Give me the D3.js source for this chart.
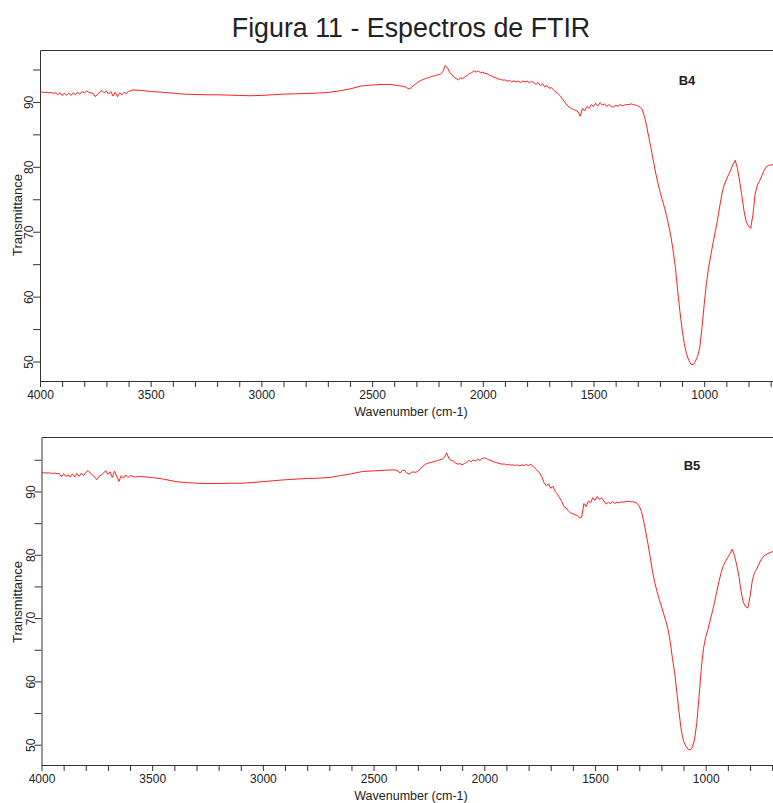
<!DOCTYPE html>
<html>
<head>
<meta charset="utf-8">
<script src="https://cdn.jsdelivr.net/npm/d3@7"></script>
<style>
body { margin: 0; background: #fff; }
svg text { font-family: "Liberation Sans", Arial, sans-serif; fill: #222; }
</style>
</head>
<body>
<div id="chart"></div>
<script>
// tick labels (500 lies past the right edge of the picture)
var xTickLabels = [4000, 3500, 3000, 2500, 2000, 1500, 1000];
var yTickLabels = [50, 60, 70, 80, 90];

// B4 spectrum: [wavenumber, transmittance]
var b4 = [
[4000,91.5],[3990,91.5],[3980,91.45],[3970,91.5],[3960,91.4],[3950,91.45],[3940,91.35],[3930,91.4],[3920,91.1],[3910,91.4],
[3900,91.0],[3890,91.3],[3880,91.05],[3870,91.35],[3860,91.0],[3850,91.4],[3840,91.1],[3830,91.5],[3820,91.2],[3810,91.6],
[3800,91.4],[3790,91.7],[3780,91.5],[3770,91.4],[3760,91.3],[3750,90.8],[3740,91.2],[3730,91.5],[3720,91.75],[3710,91.4],
[3700,91.7],[3690,91.2],[3680,91.6],[3670,90.9],[3660,91.5],[3650,90.8],[3640,91.4],[3630,91.1],[3620,91.5],[3610,91.3],
[3600,91.6],[3580,91.85],[3550,91.8],[3500,91.6],[3450,91.5],[3400,91.35],[3350,91.2],[3300,91.15],[3250,91.1],[3200,91.1],
[3150,91.05],[3100,91.0],[3050,90.95],[3000,91.0],[2950,91.1],[2900,91.2],[2850,91.25],[2800,91.3],[2750,91.35],[2700,91.45],
[2650,91.7],[2600,92.0],[2550,92.45],[2500,92.6],[2450,92.7],[2420,92.7],[2400,92.6],[2380,92.5],[2360,92.4],[2350,92.3],
[2340,92.1],[2330,92.0],[2320,92.3],[2310,92.6],[2300,92.85],[2290,93.1],[2280,93.3],[2270,93.45],[2260,93.6],[2250,93.7],
[2240,93.8],[2230,93.95],[2220,94.0],[2210,94.1],[2200,94.2],[2190,94.3],[2180,94.7],[2170,95.6],[2160,95.3],[2150,94.6],
[2140,94.2],[2130,93.8],[2120,93.6],[2110,93.4],[2100,93.7],[2090,93.6],[2080,93.9],[2070,94.1],[2060,94.4],[2050,94.5],
[2040,94.8],[2030,94.6],[2020,94.75],[2010,94.5],[2000,94.6],[1990,94.4],[1980,94.35],[1970,94.1],[1960,94.0],[1950,93.8],
[1940,93.7],[1930,93.5],[1920,93.5],[1910,93.35],[1900,93.4],[1890,93.2],[1880,93.3],[1870,93.1],[1860,93.25],[1850,93.1],
[1840,93.2],[1830,93.0],[1820,93.2],[1810,93.1],[1800,93.2],[1790,92.95],[1780,93.15],[1770,93.0],[1760,92.7],[1750,93.0],
[1740,92.5],[1730,92.8],[1720,92.3],[1710,92.5],[1700,92.1],[1690,92.2],[1680,91.8],[1670,91.5],[1660,91.3],[1650,90.9],
[1640,90.4],[1630,90.0],[1620,89.5],[1610,89.2],[1600,89.0],[1590,88.8],[1580,88.7],[1570,88.5],[1560,87.8],[1550,89.0],
[1540,88.6],[1530,89.3],[1520,89.0],[1510,89.6],[1500,89.3],[1490,89.8],[1480,89.4],[1470,89.9],[1460,89.5],[1450,89.7],
[1440,89.3],[1430,89.6],[1420,89.3],[1410,89.2],[1400,89.5],[1390,89.3],[1380,89.6],[1370,89.4],[1360,89.5],[1350,89.6],
[1340,89.6],[1330,89.7],[1320,89.6],[1310,89.5],[1300,89.4],[1290,89.2],[1280,88.8],[1270,87.8],[1260,86.3],[1250,84.5],
[1240,82.8],[1230,81.0],[1220,79.2],[1210,77.6],[1200,76.2],[1190,75.0],[1180,73.8],[1170,72.5],[1160,70.9],[1150,69.2],
[1140,67.0],[1130,64.5],[1120,61.0],[1110,57.8],[1100,55.0],[1090,52.8],[1080,51.2],[1070,50.2],[1060,49.6],[1050,49.5],
[1040,50.0],[1030,50.8],[1020,52.2],[1010,55.2],[1000,58.8],[990,62.0],[980,64.5],[970,66.4],[960,68.3],[950,70.0],
[940,71.8],[930,73.9],[920,75.8],[910,77.2],[900,78.0],[890,78.8],[880,79.5],[870,80.4],[860,81.0],[850,79.8],
[840,77.8],[830,75.6],[820,73.2],[810,71.5],[800,70.9],[790,70.5],[780,72.6],[770,75.8],[760,77.2],[750,77.8],
[740,78.6],[730,79.4],[720,80.0],[710,80.2],[700,80.3],[690,80.3],[680,80.4],[670,80.4],[660,80.4]
];

// B5 spectrum: [wavenumber, transmittance]
var b5 = [
[4000,93.0],[3990,92.95],[3980,92.9],[3970,92.95],[3960,92.9],[3950,92.85],[3940,92.9],[3930,92.8],[3920,92.85],[3910,92.3],
[3900,92.8],[3890,92.4],[3880,92.6],[3870,92.3],[3860,92.8],[3850,92.3],[3840,92.85],[3830,92.4],[3820,92.9],[3810,92.5],
[3800,93.0],[3790,93.3],[3780,92.9],[3770,92.6],[3760,92.3],[3750,91.85],[3740,92.4],[3730,92.6],[3720,92.9],[3710,93.3],
[3700,92.7],[3690,93.1],[3680,92.2],[3670,93.2],[3660,92.4],[3650,91.6],[3640,92.5],[3630,92.1],[3620,92.6],[3610,92.2],
[3600,92.5],[3580,92.3],[3550,92.35],[3500,92.2],[3450,91.95],[3400,91.6],[3350,91.4],[3300,91.3],[3250,91.25],[3200,91.25],
[3150,91.3],[3100,91.3],[3050,91.4],[3000,91.55],[2950,91.7],[2900,91.85],[2850,91.95],[2800,92.05],[2750,92.1],[2700,92.2],
[2650,92.5],[2600,92.8],[2550,93.15],[2500,93.25],[2450,93.35],[2420,93.4],[2400,93.4],[2390,93.2],[2380,92.9],[2370,93.3],
[2360,93.35],[2350,92.9],[2340,92.75],[2330,93.0],[2320,93.1],[2310,93.0],[2300,93.2],[2290,93.5],[2280,93.9],[2270,94.2],
[2260,94.4],[2250,94.5],[2240,94.6],[2230,94.7],[2220,94.8],[2210,94.9],[2200,95.0],[2190,95.1],[2180,95.4],[2170,96.1],
[2160,95.2],[2150,94.9],[2140,94.8],[2130,94.5],[2120,94.3],[2110,94.4],[2100,94.2],[2090,94.4],[2080,94.6],[2070,94.9],
[2060,94.7],[2050,95.0],[2040,94.8],[2030,95.1],[2020,94.9],[2010,95.2],[2000,95.3],[1990,95.2],[1980,95.0],[1970,94.9],
[1960,94.7],[1950,94.6],[1940,94.5],[1930,94.4],[1920,94.3],[1910,94.35],[1900,94.2],[1890,94.25],[1880,94.15],[1870,94.2],
[1860,94.1],[1850,94.2],[1840,94.05],[1830,94.2],[1820,94.1],[1810,94.25],[1800,94.1],[1790,94.3],[1780,94.0],[1770,93.6],
[1760,93.3],[1750,92.9],[1740,92.3],[1730,91.4],[1720,90.9],[1710,91.2],[1700,90.5],[1690,90.8],[1680,90.0],[1670,89.6],
[1660,89.0],[1650,88.4],[1640,87.6],[1630,87.4],[1620,86.9],[1610,86.6],[1600,86.5],[1590,86.3],[1580,86.2],[1570,85.8],
[1560,86.0],[1550,88.1],[1540,87.6],[1530,88.5],[1520,88.2],[1510,89.0],[1500,88.6],[1490,89.2],[1480,88.7],[1470,89.0],
[1460,88.5],[1450,88.0],[1440,88.3],[1430,88.1],[1420,88.4],[1410,88.1],[1400,88.3],[1390,88.2],[1380,88.35],[1370,88.3],
[1360,88.4],[1350,88.45],[1340,88.4],[1330,88.35],[1320,88.3],[1310,88.1],[1300,87.7],[1290,86.8],[1280,85.3],[1270,83.5],
[1260,81.6],[1250,79.5],[1240,77.3],[1230,75.6],[1220,74.2],[1210,73.0],[1200,71.9],[1190,70.7],[1180,69.5],[1170,68.2],
[1160,66.2],[1150,63.6],[1140,61.3],[1130,58.2],[1120,55.0],[1110,52.2],[1100,50.6],[1090,49.8],[1080,49.3],[1070,49.2],
[1060,49.6],[1050,50.9],[1040,53.5],[1030,57.6],[1020,62.0],[1010,65.2],[1000,67.0],[990,68.2],[980,69.6],[970,71.0],
[960,72.5],[950,74.2],[940,75.8],[930,77.2],[920,78.3],[910,79.0],[900,79.6],[890,80.2],[880,80.9],[870,79.9],
[860,78.4],[850,76.6],[840,74.2],[830,72.5],[820,71.8],[810,71.6],[800,73.3],[790,75.8],[780,77.2],[770,77.7],
[760,78.5],[750,79.2],[740,79.7],[730,80.0],[720,80.2],[710,80.3],[700,80.5],[690,80.5],[680,80.6],[670,80.6],[660,80.6]
];

var width = 773, height = 803;
var pxPerUnit = 0.2214;

var svg = d3.select("#chart").append("svg")
  .attr("width", width)
  .attr("height", height);

svg.append("text")
  .attr("x", 411)
  .attr("y", 37)
  .style("text-anchor", "middle")
  .style("font-size", "26.8px")
  .text("Figura 11 - Espectros de FTIR");

var panels = [
  { id: "p1", name: "B4", data: b4, left: 40, top: 50, bottom: 381, yDomain: [47, 98], nameX: 687, nameY: 85, yLabelY: 215 },
  { id: "p2", name: "B5", data: b5, left: 41.5, top: 437, bottom: 765, yDomain: [46.8, 98.6], nameX: 692, nameY: 470, yLabelY: 602 }
];

panels.forEach(function (p) {
  var x = d3.scaleLinear()
    .domain([4000, 400])
    .range([p.left, p.left + 3600 * pxPerUnit]);
  var y = d3.scaleLinear()
    .domain(p.yDomain)
    .range([p.bottom, p.top]);

  var g = svg.append("g");

  g.append("clipPath")
    .attr("id", "clip-" + p.id)
    .append("rect")
    .attr("x", p.left)
    .attr("y", p.top)
    .attr("width", width - p.left)
    .attr("height", p.bottom - p.top);

  // top frame line
  g.append("line")
    .attr("x1", p.left + 0.5)
    .attr("x2", width)
    .attr("y1", p.top + 0.5)
    .attr("y2", p.top + 0.5)
    .attr("stroke", "#333");

  // ticks every 100 cm-1 that fall inside the picture
  var xAxis = d3.axisBottom(x)
    .tickValues(d3.range(4000, 650, -100))
    .tickSize(6)
    .tickSizeOuter(0)
    .tickPadding(3)
    .tickFormat(function (d) { return xTickLabels.indexOf(d) >= 0 ? d : ""; });

  var yAxis = d3.axisLeft(y)
    .tickValues(d3.range(50, 96, 5))
    .tickSize(7)
    .tickSizeOuter(0)
    .tickFormat(function (d) { return yTickLabels.indexOf(d) >= 0 ? d : ""; });

  var gx = g.append("g")
    .attr("class", "x axis")
    .attr("transform", "translate(0," + p.bottom + ")")
    .call(xAxis);
  gx.selectAll("text").style("font-size", "12px").attr("fill", "#222");
  gx.selectAll("line, path").attr("stroke", "#333");

  var gy = g.append("g")
    .attr("class", "y axis")
    .attr("transform", "translate(" + p.left + ",0)")
    .call(yAxis);
  gy.selectAll("line, path").attr("stroke", "#333");
  gy.selectAll("text")
    .style("font-size", "12px")
    .attr("fill", "#222")
    .attr("x", 0)
    .attr("dy", 0)
    .style("text-anchor", "middle")
    .attr("transform", "translate(-7,0) rotate(-90)");

  var line = d3.line()
    .x(function (d) { return x(d[0]); })
    .y(function (d) { return y(d[1]); });

  g.append("path")
    .datum(p.data)
    .attr("clip-path", "url(#clip-" + p.id + ")")
    .attr("fill", "none")
    .attr("stroke", "#ff2020")
    .attr("stroke-width", 1)
    .attr("d", line);

  g.append("text")
    .attr("x", 411)
    .attr("y", p.bottom + 35)
    .style("text-anchor", "middle")
    .style("font-size", "12.5px")
    .text("Wavenumber (cm-1)");

  g.append("text")
    .attr("transform", "translate(22," + p.yLabelY + ") rotate(-90)")
    .style("text-anchor", "middle")
    .style("font-size", "13px")
    .text("Transmittance");

  g.append("text")
    .attr("x", p.nameX)
    .attr("y", p.nameY)
    .style("text-anchor", "middle")
    .style("font-size", "13px")
    .style("font-weight", "bold")
    .attr("fill", "#000")
    .text(p.name);
});
</script>
</body>
</html>
